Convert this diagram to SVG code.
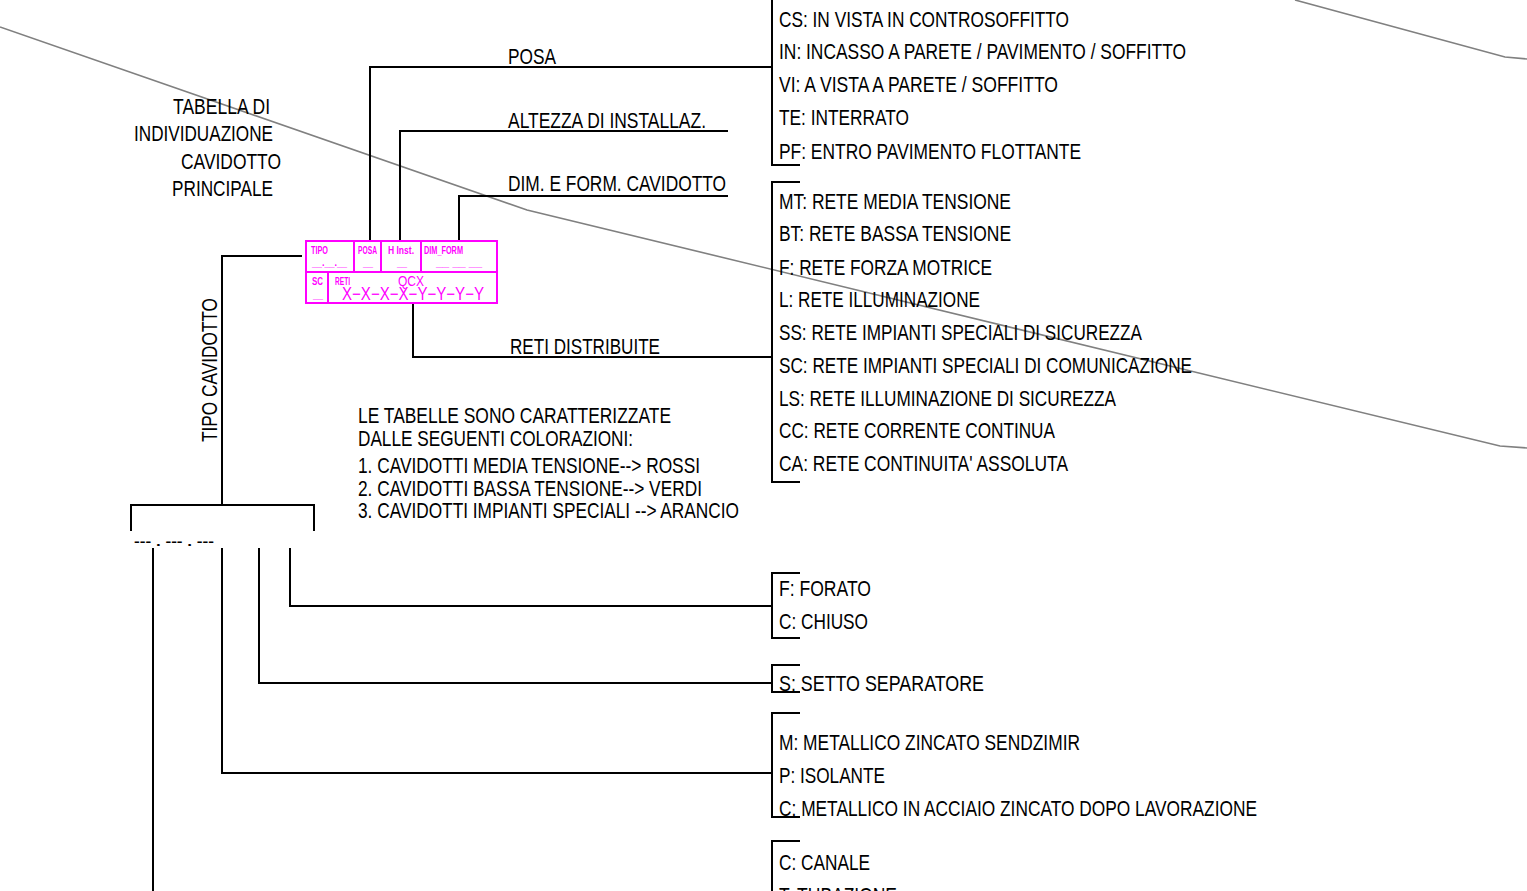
<svg xmlns="http://www.w3.org/2000/svg" width="1527" height="891" viewBox="0 0 1527 891">
<style>
.t{font-family:"Liberation Sans Narrow","Liberation Sans",Arial,sans-serif;font-size:22px;fill:#000}
.m{font-family:"Liberation Sans Narrow","Liberation Sans",Arial,sans-serif;font-weight:bold;font-size:11.5px;fill:#ff00ff}
.mm{font-family:"Liberation Sans Narrow","Liberation Sans",Arial,sans-serif;fill:#ff00ff}
.c{fill:none;stroke:#000;stroke-width:2}
.g{fill:none;stroke:#808080;stroke-width:1.6}
.mg{fill:none;stroke:#ff00ff;stroke-width:2}
</style>
<rect width="1527" height="891" fill="#fff"/>
<g id="background-lines">
<polyline class="g" points="0,27 527,210 1500,446 1527,448"/>
<polyline class="g" points="1295,0 1505,57 1527,59"/>
</g>
<g id="connectors">
<polyline class="c" points="370,241 370,67 772,67"/>
<polyline class="c" points="400,241 400,131 728,131"/>
<polyline class="c" points="459,241 459,196 728,196"/>
<polyline class="c" points="413,303 413,357 772,357"/>
<polyline class="c" points="302,256 222,256 222,505"/>
<polyline class="c" points="131,531 131,505 314,505 314,531"/>
<polyline class="c" points="290,548 290,606 772,606"/>
<polyline class="c" points="259,548 259,683 772,683"/>
<polyline class="c" points="222,548 222,773 772,773"/>
<line class="c" x1="153" y1="548" x2="153" y2="891"/>
</g>
<g id="table-main">
<rect class="mg" x="306" y="241" width="191" height="62"/>
<line class="mg" x1="306" y1="272" x2="497" y2="272"/>
<line class="mg" x1="354" y1="241" x2="354" y2="272"/>
<line class="mg" x1="381" y1="241" x2="381" y2="272"/>
<line class="mg" x1="421" y1="241" x2="421" y2="272"/>
<line class="mg" x1="328" y1="272" x2="328" y2="303"/>
<text class="m" x="311" y="254" textLength="17" lengthAdjust="spacingAndGlyphs">TIPO</text>
<text class="m" x="358" y="254" textLength="19" lengthAdjust="spacingAndGlyphs">POSA</text>
<text class="m" x="388" y="254" textLength="26" lengthAdjust="spacingAndGlyphs">H Inst.</text>
<text class="m" x="424" y="254" textLength="39" lengthAdjust="spacingAndGlyphs">DIM_FORM</text>
<text class="m" x="312" y="266" textLength="35" lengthAdjust="spacingAndGlyphs">__.__.__</text>
<text class="m" x="363" y="266" textLength="10" lengthAdjust="spacingAndGlyphs">__</text>
<text class="m" x="397" y="266" textLength="10" lengthAdjust="spacingAndGlyphs">__</text>
<text class="m" x="436" y="266" textLength="46" lengthAdjust="spacingAndGlyphs">__ __ __</text>
<text class="m" x="312" y="285" textLength="11" lengthAdjust="spacingAndGlyphs">SC</text>
<text class="m" x="335" y="285" textLength="15" lengthAdjust="spacingAndGlyphs">RETI</text>
<text class="m" x="313" y="298" textLength="10" lengthAdjust="spacingAndGlyphs">__</text>
<text class="mm" x="398" y="286" font-size="15" textLength="26" lengthAdjust="spacingAndGlyphs">QCX</text>
<text class="mm" x="342" y="300" font-size="18" textLength="142" lengthAdjust="spacingAndGlyphs">X−X−X−X−Y−Y−Y−Y</text>
</g>
<g id="title">
<text class="t" x="173" y="114" textLength="97" lengthAdjust="spacingAndGlyphs">TABELLA DI</text>
<text class="t" x="134" y="141" textLength="139" lengthAdjust="spacingAndGlyphs">INDIVIDUAZIONE</text>
<text class="t" x="181" y="169" textLength="100" lengthAdjust="spacingAndGlyphs">CAVIDOTTO</text>
<text class="t" x="172" y="196" textLength="101" lengthAdjust="spacingAndGlyphs">PRINCIPALE</text>
</g>
<g id="labels">
<text class="t" x="508" y="64" textLength="48" lengthAdjust="spacingAndGlyphs">POSA</text>
<text class="t" x="508" y="128" textLength="198" lengthAdjust="spacingAndGlyphs">ALTEZZA DI INSTALLAZ.</text>
<text class="t" x="508" y="191" textLength="218" lengthAdjust="spacingAndGlyphs">DIM. E FORM. CAVIDOTTO</text>
<text class="t" x="510" y="354" textLength="150" lengthAdjust="spacingAndGlyphs">RETI DISTRIBUITE</text>
<text class="t" transform="translate(217,442) rotate(-90)" x="0" y="0" textLength="144" lengthAdjust="spacingAndGlyphs">TIPO CAVIDOTTO</text>
<text x="134" y="546" font-family="Liberation Sans,Arial,sans-serif" font-size="13" font-weight="bold" textLength="80" lengthAdjust="spacingAndGlyphs">--- . --- . ---</text>
</g>
<g id="notes">
<text class="t" x="358" y="423" textLength="313" lengthAdjust="spacingAndGlyphs">LE TABELLE SONO CARATTERIZZATE</text>
<text class="t" x="358" y="446" textLength="275" lengthAdjust="spacingAndGlyphs">DALLE SEGUENTI COLORAZIONI:</text>
<text class="t" x="358" y="473" textLength="342" lengthAdjust="spacingAndGlyphs">1. CAVIDOTTI MEDIA TENSIONE--&gt; ROSSI</text>
<text class="t" x="358" y="496" textLength="344" lengthAdjust="spacingAndGlyphs">2. CAVIDOTTI BASSA TENSIONE--&gt; VERDI</text>
<text class="t" x="358" y="518" textLength="381" lengthAdjust="spacingAndGlyphs">3. CAVIDOTTI IMPIANTI SPECIALI --&gt; ARANCIO</text>
</g>
<g id="posa-options">
<polyline class="c" points="772,0 772,165 800,165"/>
<text class="t" x="779" y="27" textLength="290" lengthAdjust="spacingAndGlyphs">CS: IN VISTA IN CONTROSOFFITTO</text>
<text class="t" x="779" y="59" textLength="407" lengthAdjust="spacingAndGlyphs">IN: INCASSO A PARETE / PAVIMENTO / SOFFITTO</text>
<text class="t" x="779" y="92" textLength="279" lengthAdjust="spacingAndGlyphs">VI: A VISTA A PARETE / SOFFITTO</text>
<text class="t" x="779" y="125" textLength="130" lengthAdjust="spacingAndGlyphs">TE: INTERRATO</text>
<text class="t" x="779" y="159" textLength="302" lengthAdjust="spacingAndGlyphs">PF: ENTRO PAVIMENTO FLOTTANTE</text>
</g>
<g id="reti-options">
<polyline class="c" points="800,182 772,182 772,482 800,482"/>
<text class="t" x="779" y="209" textLength="232" lengthAdjust="spacingAndGlyphs">MT: RETE MEDIA TENSIONE</text>
<text class="t" x="779" y="241" textLength="232" lengthAdjust="spacingAndGlyphs">BT: RETE BASSA TENSIONE</text>
<text class="t" x="779" y="275" textLength="213" lengthAdjust="spacingAndGlyphs">F: RETE FORZA MOTRICE</text>
<text class="t" x="779" y="307" textLength="201" lengthAdjust="spacingAndGlyphs">L: RETE ILLUMINAZIONE</text>
<text class="t" x="779" y="340" textLength="363" lengthAdjust="spacingAndGlyphs">SS: RETE IMPIANTI SPECIALI DI SICUREZZA</text>
<text class="t" x="779" y="373" textLength="413" lengthAdjust="spacingAndGlyphs">SC: RETE IMPIANTI SPECIALI DI COMUNICAZIONE</text>
<text class="t" x="779" y="406" textLength="337" lengthAdjust="spacingAndGlyphs">LS: RETE ILLUMINAZIONE DI SICUREZZA</text>
<text class="t" x="779" y="438" textLength="276" lengthAdjust="spacingAndGlyphs">CC: RETE CORRENTE CONTINUA</text>
<text class="t" x="779" y="471" textLength="289" lengthAdjust="spacingAndGlyphs">CA: RETE CONTINUITA' ASSOLUTA</text>
</g>
<g id="forato-options">
<polyline class="c" points="800,573 772,573 772,638 800,638"/>
<text class="t" x="779" y="596" textLength="92" lengthAdjust="spacingAndGlyphs">F: FORATO</text>
<text class="t" x="779" y="629" textLength="89" lengthAdjust="spacingAndGlyphs">C: CHIUSO</text>
</g>
<g id="setto-options">
<polyline class="c" points="800,665 772,665 772,692 800,692"/>
<text class="t" x="779" y="691" textLength="205" lengthAdjust="spacingAndGlyphs">S:  SETTO SEPARATORE</text>
</g>
<g id="materiale-options">
<polyline class="c" points="800,713 772,713 772,817 800,817"/>
<text class="t" x="779" y="750" textLength="301" lengthAdjust="spacingAndGlyphs">M: METALLICO ZINCATO SENDZIMIR</text>
<text class="t" x="779" y="783" textLength="106" lengthAdjust="spacingAndGlyphs">P: ISOLANTE</text>
<text class="t" x="779" y="816" textLength="478" lengthAdjust="spacingAndGlyphs">C: METALLICO IN ACCIAIO ZINCATO DOPO LAVORAZIONE</text>
</g>
<g id="forma-options">
<polyline class="c" points="800,841 772,841 772,891"/>
<text class="t" x="779" y="870" textLength="91" lengthAdjust="spacingAndGlyphs">C: CANALE</text>
<text class="t" x="779" y="903" textLength="118" lengthAdjust="spacingAndGlyphs">T: TUBAZIONE</text>
</g>
</svg>
